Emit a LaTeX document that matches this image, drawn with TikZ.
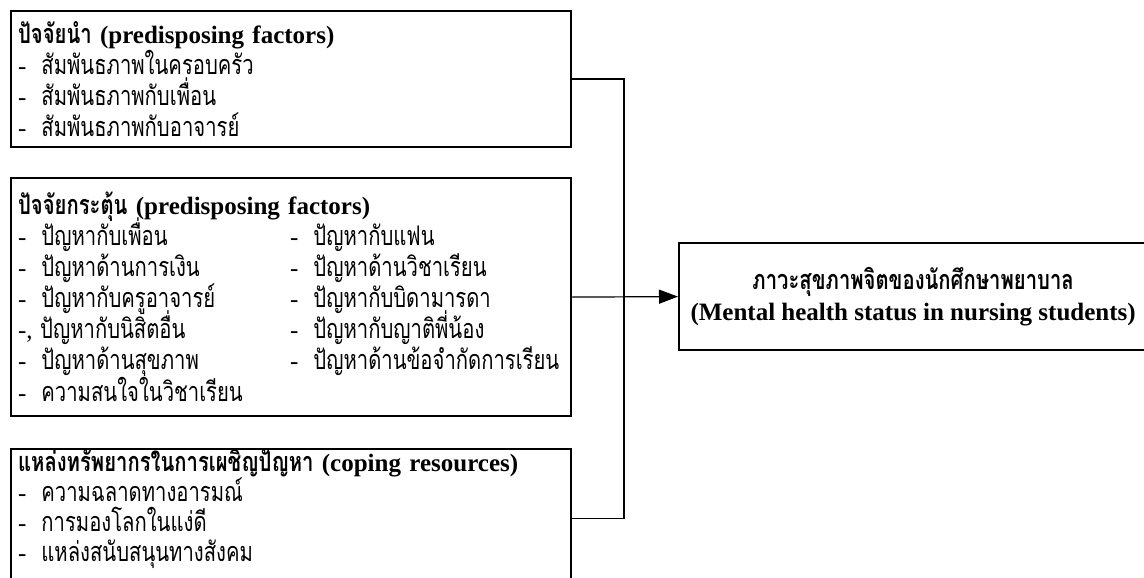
\documentclass[tikz,border=0pt]{standalone}
\usepackage{fontspec}
\setmainfont{Liberation Serif}
\newfontfamily\thai[Script=Thai, Scale=1.08, FakeStretch=0.75]{Loma}
\usetikzlibrary{arrows.meta}
\newcommand{\boxfont}{\fontsize{25}{31}\selectfont}
\newcommand{\itm}[1]{\mbox{-\hspace{0.6em}{\thai #1}}}
\newcommand{\itmpair}[2]{\mbox{\makebox[272pt][l]{\itm{#1}}\itm{#2}}}
\newcommand{\heading}[2]{\lineskiplimit=-20pt\relax{\thai\bfseries #1} \textbf{#2}}

\begin{document}
\begin{tikzpicture}[x=1pt, y=-1pt,
	every node/.style={font=\boxfont},
	factor/.style={draw, line width=2.2pt, anchor=north west, align=left, text width=546pt, inner xsep=7pt, inner ysep=0pt, minimum width=560pt},
	outcome/.style={draw, line width=2.2pt, anchor=north west, align=center, minimum width=468pt, minimum height=107pt},
	link/.style={line width=1.2pt}]
	\useasboundingbox (0,0) rectangle (1144,578);
	\node[factor, minimum height=136pt] (pre) at (10,10) {\heading{ปัจจัยนำ}{(predisposing factors)}\\
		\itm{สัมพันธภาพในครอบครัว}\\ \itm{สัมพันธภาพกับเพื่อน}\\ \itm{สัมพันธภาพกับอาจารย์}};
	\node[factor, minimum height=238pt] (stim) at (10,177) {\heading{ปัจจัยกระตุ้น}{(predisposing factors)}\\
		\itmpair{ปัญหากับเพื่อน}{ปัญหากับแฟน}\\
		\itmpair{ปัญหาด้านการเงิน}{ปัญหาด้านวิชาเรียน}\\
		\itmpair{ปัญหากับครูอาจารย์}{ปัญหากับบิดามารดา}\\
		\mbox{\makebox[272pt][l]{-,\hspace{0.3em}{\thai ปัญหากับนิสิตอื่น}}\itm{ปัญหากับญาติพี่น้อง}}\\
		\itmpair{ปัญหาด้านสุขภาพ}{ปัญหาด้านข้อจำกัดการเรียน}\\
		\itm{ความสนใจในวิชาเรียน}};
	\node[factor, minimum height=138pt, font=\fontsize{25}{30}\selectfont] (cope) at (10,448) {\parbox[c][130pt][t]{546pt}{\raggedright\vspace*{-4pt}%
		\heading{แหล่งทรัพยากรในการเผชิญปัญหา}{(coping resources)}\\
		\itm{ความฉลาดทางอารมณ์}\\ \itm{การมองโลกในแง่ดี}\\ \itm{แหล่งสนับสนุนทางสังคม}}};
	\node[outcome] (health) at (678,242) {{\thai\bfseries ภาวะสุขภาพจิตของนักศึกษาพยาบาล}\\
		{\bfseries (Mental health status in nursing students)}};
	\coordinate (bus) at (624,0);
	\draw[link] (pre.east) -- (pre.east -| bus) -- (cope.east -| bus) -- (cope.east);
	\draw[link, -{Triangle[length=19pt, width=14pt]}] (stim.east) -- (health.west);
\end{tikzpicture}
\end{document}
